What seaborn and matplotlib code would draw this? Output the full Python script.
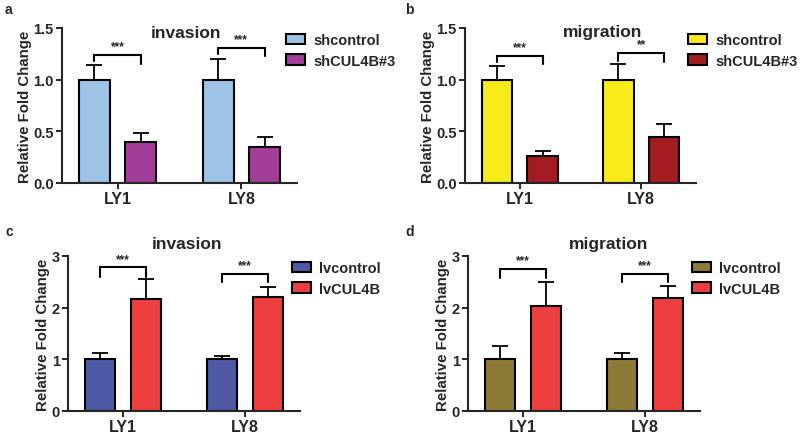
import numpy as np
import pandas as pd
import matplotlib
matplotlib.use("Agg")
import matplotlib.pyplot as plt
import matplotlib.patches as mpatches
from matplotlib.container import BarContainer
import seaborn as sns

sns.set_theme(style="ticks")
plt.rcParams['font.family'] = ['Liberation Sans', 'DejaVu Sans']
plt.rcParams['font.weight'] = 'bold'

cells = ["LY1", "LY8"]

# panel a: invasion (knockdown)
a_groups = ["shcontrol", "shCUL4B#3"]
a_ctrl = [1.0, 1.0]
a_ctrl_err = [0.14, 0.20]
a_treat = [0.40, 0.35]
a_treat_err = [0.08, 0.10]
a_sig = ["***", "***"]

# panel b: migration (knockdown)
b_groups = ["shcontrol", "shCUL4B#3"]
b_ctrl = [1.0, 1.0]
b_ctrl_err = [0.13, 0.15]
b_treat = [0.26, 0.45]
b_treat_err = [0.05, 0.12]
b_sig = ["***", "**"]

# panel c: invasion (overexpression)
c_groups = ["lvcontrol", "lvCUL4B"]
c_ctrl = [1.0, 1.0]
c_ctrl_err = [0.12, 0.07]
c_treat = [2.17, 2.20]
c_treat_err = [0.38, 0.20]
c_sig = ["***", "***"]

# panel d: migration (overexpression)
d_groups = ["lvcontrol", "lvCUL4B"]
d_ctrl = [1.0, 1.0]
d_ctrl_err = [0.25, 0.13]
d_treat = [2.03, 2.18]
d_treat_err = [0.47, 0.23]
d_sig = ["***", "***"]

fig = plt.figure(figsize=(8, 4.35), dpi=100)
W, H = 800.0, 435.0

def fx(px):
    return px / W

def fy(py):
    return 1 - py / H

panels = [
    dict(letter="a", title="invasion", groups=a_groups, ctrl=a_ctrl, ce=a_ctrl_err, tr=a_treat, te=a_treat_err,
         sig=a_sig, colors=["#9DC3E6", "#A23D98"], box=(62, 297, 29, 184), ylim=1.5,
         yticks=[0, 0.5, 1.0, 1.5], fmt="{:.1f}", title_xy=(186, 33), leg=(286, 34), lpos=(5, 10),
         brackets=[(1.24, 1.18, 1.15), (1.31, 1.25, 1.23)]),
    dict(letter="b", title="migration", groups=b_groups, ctrl=b_ctrl, ce=b_ctrl_err, tr=b_treat, te=b_treat_err,
         sig=b_sig, colors=["#F7EC1A", "#A21C22"], box=(465, 696, 29, 184), ylim=1.5,
         yticks=[0, 0.5, 1.0, 1.5], fmt="{:.1f}", title_xy=(603, 33), leg=(688, 34), lpos=(405, 10),
         brackets=[(1.23, 1.17, 1.15), (1.26, 1.18, 1.17)]),
    dict(letter="c", title="invasion", groups=c_groups, ctrl=c_ctrl, ce=c_ctrl_err, tr=c_treat, te=c_treat_err,
         sig=c_sig, colors=["#4F5AA6", "#EE3F40"], box=(68, 300, 257, 412), ylim=3,
         yticks=[0, 1, 2, 3], fmt="{:d}", title_xy=(187, 245), leg=(292, 262), lpos=(5, 232),
         brackets=[(2.78, 2.59, 2.59), (2.66, 2.49, 2.49)]),
    dict(letter="d", title="migration", groups=d_groups, ctrl=d_ctrl, ce=d_ctrl_err, tr=d_treat, te=d_treat_err,
         sig=d_sig, colors=["#8C7A36", "#EE3F40"], box=(468, 700, 257, 412), ylim=3,
         yticks=[0, 1, 2, 3], fmt="{:d}", title_xy=(609, 245), leg=(692, 262), lpos=(405, 232),
         brackets=[(2.75, 2.57, 2.57), (2.66, 2.49, 2.49)]),
]

for p in panels:
    x0, x1, y0, y1 = p["box"]
    ax = fig.add_axes([fx(x0), fy(y1), fx(x1 - x0), (y1 - y0) / H])
    df = pd.DataFrame({
        "cell": cells * 2,
        "group": [p["groups"][0]] * 2 + [p["groups"][1]] * 2,
        "value": list(p["ctrl"]) + list(p["tr"]),
    })
    sns.barplot(data=df, x="cell", y="value", hue="group", hue_order=p["groups"], order=cells,
                palette=p["colors"], saturation=1, width=0.75, gap=0.33, edgecolor="black", linewidth=1.5,
                errorbar=None, legend=False, ax=ax, zorder=2)
    bar_conts = [c for c in ax.containers if isinstance(c, BarContainer)]
    centers = []
    for ci, cont in enumerate(bar_conts):
        vals = p["ctrl"] if ci == 0 else p["tr"]
        errs = p["ce"] if ci == 0 else p["te"]
        xs = [b.get_x() + b.get_width() / 2 for b in cont.patches]
        centers.append(xs)
        ax.errorbar(xs, vals, yerr=[np.zeros(len(errs)), errs], fmt="none", ecolor="black",
                    elinewidth=1.3, capsize=6, capthick=1.3, zorder=1, clip_on=False)
    # significance brackets
    for i in range(len(cells)):
        top, lleg, rleg = p["brackets"][i]
        xl, xr = centers[0][i], centers[1][i]
        ax.plot([xl, xl, xr, xr], [lleg, top, top, rleg], color="black", lw=1.5,
                clip_on=False, solid_joinstyle="miter")
        ax.text((xl + xr) / 2, top + (0.015 * p["ylim"]), p["sig"][i], ha="center", va="bottom",
                fontsize=8.5, fontweight="bold")
    ax.set_xlim(-0.45, 1.45)
    ax.set_ylim(0, p["ylim"])
    ax.set_yticks(p["yticks"])
    ax.set_yticklabels([p["fmt"].format(v) for v in p["yticks"]], fontsize=10.5, fontweight="bold")
    ax.set_xticks(range(len(cells)))
    ax.set_xticklabels(cells, fontsize=11.5, fontweight="bold")
    ax.set_xlabel("")
    ax.set_ylabel("Relative Fold Change", fontsize=10.8, fontweight="bold", labelpad=1)
    ax.tick_params(axis="y", length=4, width=1.4, pad=2)
    ax.tick_params(axis="x", length=4, width=1.4, pad=2)
    sns.despine(ax=ax)
    for s in ["left", "bottom"]:
        ax.spines[s].set_linewidth(1.5)
    ax.set_facecolor("none")
    fig.text(fx(p["title_xy"][0]), fy(p["title_xy"][1]), p["title"], ha="center", va="center",
             fontsize=12.5, fontweight="bold")
    handles = [mpatches.Patch(facecolor=c, edgecolor="black", linewidth=1.5) for c in p["colors"]]
    fig.legend(handles, p["groups"], loc="upper left", bbox_to_anchor=(fx(p["leg"][0]), fy(p["leg"][1])),
               frameon=False, borderpad=0, borderaxespad=0, handlelength=1.3, handleheight=0.7,
               handletextpad=0.55, labelspacing=0.45, prop=dict(size=10.5, weight="bold"))
    fig.text(fx(p["lpos"][0]), fy(p["lpos"][1]), p["letter"], ha="left", va="center",
             fontsize=10, fontweight="bold")

fig.savefig("out.png", dpi=100)
